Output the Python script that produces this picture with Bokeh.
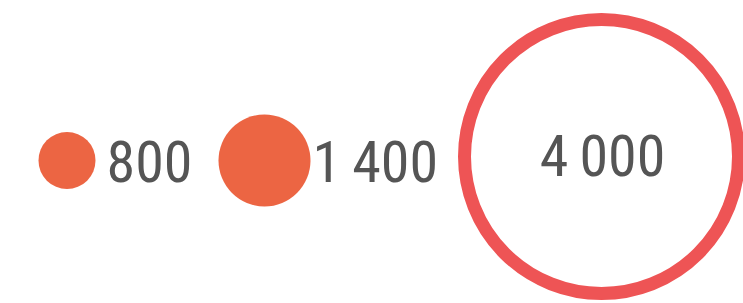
from bokeh.plotting import figure
from bokeh.models import Range1d, ColumnDataSource
from bokeh.core.properties import value
from bokeh.embed import file_html
from bokeh.resources import INLINE

# data
labels = ["800", "1\u2009400", "4\u2009000"]
values = [800, 1400, 4000]

W, H = 743, 303
p = figure(width=W, height=H, output_backend="svg", toolbar_location=None,
           x_range=Range1d(0, W), y_range=Range1d(H, 0),
           min_border=0, outline_line_color=None)
p.axis.visible = False
p.grid.visible = False
p.background_fill_color = "white"
p.border_fill_color = "white"

# layout (pixel coordinates)
cx = [66.5, 264, 601]
cy = [160, 160, 156]
diam = {800: 57, 1400: 92, 4000: 274}

small = ColumnDataSource(dict(x=cx[:2], y=cy[:2], s=[diam[v] for v in values[:2]]))
p.scatter("x", "y", size="s", source=small, fill_color="#EC6543", line_color=None)

p.scatter([cx[2]], [cy[2]], size=diam[values[2]], fill_color=None,
          line_color="#EE5455", line_width=13)

font = value("'Roboto Condensed', 'DejaVu Sans Condensed', 'Liberation Sans Narrow', Roboto")
p.text(x=[106, 312], y=[161, 161], text=labels[:2], text_font=font,
       text_font_size="58px", text_color="#555555", text_align="left",
       text_baseline="alphabetic")
p.text(x=[602], y=[155], text=labels[2:], text_font=font,
       text_font_size="58px", text_color="#555555", text_align="center",
       text_baseline="alphabetic")

open("out.html", "w").write(file_html(p, INLINE))
